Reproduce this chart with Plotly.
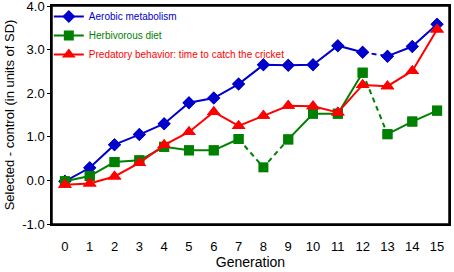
import plotly.graph_objects as go

generations = list(range(16))
aerobic = [-0.02, 0.29, 0.82, 1.05, 1.30, 1.78, 1.89, 2.21, 2.65, 2.64, 2.65, 3.09, 2.94, 2.85, 3.07, 3.58]
herbivorous = [-0.02, 0.10, 0.42, 0.46, 0.77, 0.69, 0.69, 0.95, 0.30, 0.94, 1.53, 1.53, 2.47, 1.06, 1.35, 1.60]
predatory = [-0.10, -0.07, 0.09, 0.40, 0.81, 1.11, 1.57, 1.25, 1.48, 1.71, 1.70, 1.56, 2.19, 2.16, 2.51, 3.46]

names = ["Aerobic metabolism", "Herbivorous diet", "Predatory behavior: time to catch the cricket"]
colors = ["#0000CC", "#008000", "#FF0000"]
symbols = ["diamond", "square", "triangle-up"]
msizes = [10, 10, 12]
# segments (index ranges) drawn solid / dashed
solid_segs = [[(0, 12), (13, 15)], [(0, 7), (9, 12), (13, 15)], [(0, 15)]]
dash_segs = [[(12, 13)], [(7, 9), (12, 13)], []]
series = [aerobic, herbivorous, predatory]
y_ticks = [-1, 0, 1, 2, 3, 4]


def build(vals, segs):
    xs, ys = [], []
    for a, b in segs:
        xs += generations[a:b + 1] + [None]
        ys += vals[a:b + 1] + [None]
    return xs, ys


fig = go.Figure()
for i, vals in enumerate(series):
    dx, dy = build(vals, dash_segs[i])
    if dash_segs[i]:
        fig.add_trace(go.Scatter(x=dx, y=dy, mode="lines", showlegend=False,
                                 line=dict(color=colors[i], width=2, dash="5px,4px"),
                                 hoverinfo="skip"))
    sx, sy = build(vals, solid_segs[i])
    fig.add_trace(go.Scatter(x=sx, y=sy, mode="lines+markers",
                             name=f"<span style='color:{colors[i]}'>{names[i]}</span>",
                             line=dict(color=colors[i], width=2),
                             marker=dict(symbol=symbols[i], size=msizes[i], color=colors[i])))
    fig.add_trace(go.Scatter(x=generations, y=vals, mode="markers", showlegend=False,
                             marker=dict(symbol=symbols[i], size=msizes[i], color=colors[i])))

fig.update_layout(
    width=454, height=272,
    margin=dict(l=52, r=5, t=6, b=48, autoexpand=False),
    paper_bgcolor="white", plot_bgcolor="white",
    font=dict(family="Liberation Sans, Arial", size=13, color="black"),
    showlegend=True,
    legend=dict(x=-0.008, y=1.018, xanchor="left", yanchor="top",
                bgcolor="rgba(0,0,0,0)", font=dict(size=10), itemwidth=30,
                tracegroupgap=0),
    shapes=[dict(type="rect", xref="paper", yref="paper", x0=0, y0=0, x1=1, y1=1,
                 line=dict(color="black", width=1.5), layer="above")],
)
fig.update_xaxes(range=[-0.52, 15.48], tickmode="array", tickvals=generations,
                 ticktext=[str(g) for g in generations], ticklabeloverflow="allow",
                 showgrid=False, zeroline=False, showline=True, mirror=True,
                 linecolor="black", linewidth=1.5, ticks="", ticklabelstandoff=10,
                 title=dict(text="Generation", font=dict(size=14), standoff=4))
fig.update_yaxes(range=[-1.0, 4.0], tickmode="array", tickvals=y_ticks,
                 ticktext=[f"{v:.1f}" for v in y_ticks], ticklabeloverflow="allow",
                 showgrid=False, zeroline=False, showline=True, mirror=True,
                 linecolor="black", linewidth=1.5, ticks="outside", ticklen=3,
                 tickcolor="black",
                 title=dict(text="Selected - control (in units of SD)", font=dict(size=13), standoff=5))

fig.write_html("out.html", config={"displayModeBar": False},
               post_script="document.body.style.margin='0';window.dispatchEvent(new Event('resize'));")
